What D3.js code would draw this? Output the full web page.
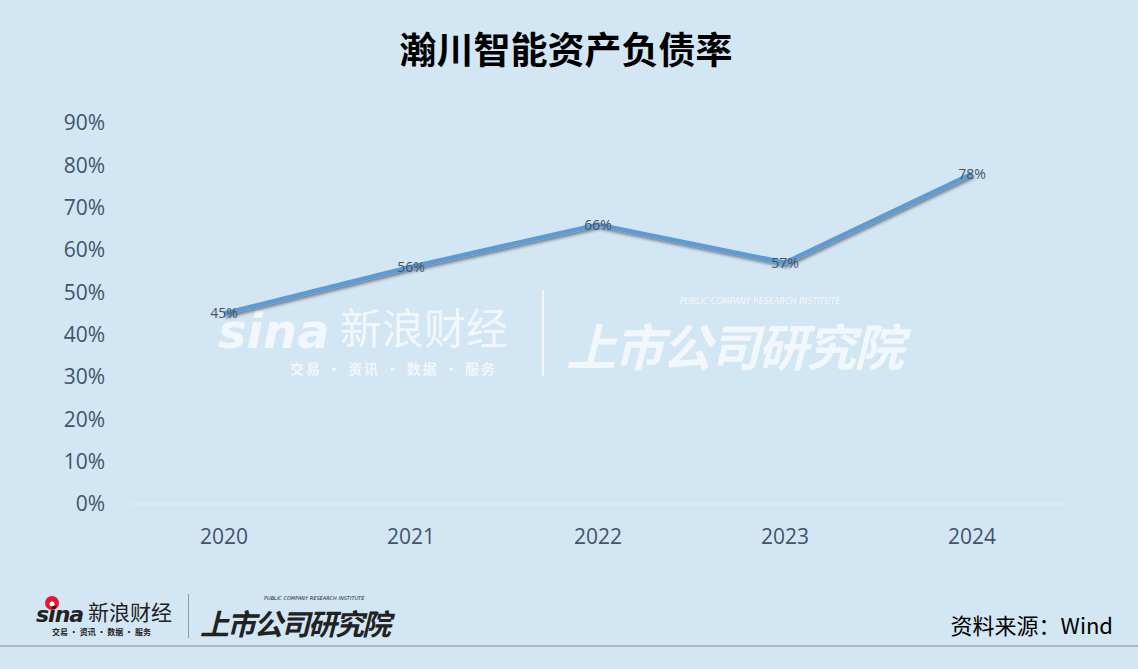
<!DOCTYPE html>
<html><head><meta charset="utf-8">
<script src="https://cdn.jsdelivr.net/npm/d3@7"></script>
<style>body{margin:0;background:#D2E6F4;}svg{display:block;}</style>
</head><body>
<script>
const categories = ["2020","2021","2022","2023","2024"];
const values = [0.45,0.56,0.66,0.57,0.78];
const yTicks = [0,0.1,0.2,0.3,0.4,0.5,0.6,0.7,0.8,0.9];
const title = "瀚川智能资产负债率";
const source = "资料来源：Wind";

const W=1138,H=669;
const svg=d3.select("body").append("svg").attr("width",W).attr("height",H);
svg.append("rect").attr("width",W).attr("height",H).attr("fill","#D2E6F4");

const defs=svg.append("defs");
const f=defs.append("filter").attr("id","sh").attr("x","-10%").attr("y","-50%").attr("width","120%").attr("height","200%");
f.append("feDropShadow").attr("dx",1.5).attr("dy",2.5).attr("stdDeviation",1.5).attr("flood-color","#000").attr("flood-opacity",0.45);

const x=d3.scalePoint().domain(categories).range([224,972]);
const y=d3.scaleLinear().domain([0,0.9]).range([504,123]);

// title
svg.append("text").attr("x",566).attr("y",64).attr("text-anchor","middle")
  .attr("font-family","'Noto Sans CJK SC'").attr("font-weight","bold").attr("font-size",37)
  .attr("fill","#000").text(title);

// watermark
const wm=svg.append("g").attr("fill","#fff").attr("opacity",0.7).attr("font-family","'Noto Sans CJK SC'");
wm.append("text").attr("x",218).attr("y",348).attr("font-size",48).attr("font-weight","bold").attr("font-style","italic").attr("font-family","'DejaVu Sans'").text("sina");
wm.append("text").attr("x",340).attr("y",344).attr("font-size",42).text("新浪财经");
wm.append("text").attr("x",290).attr("y",374).attr("font-size",14).attr("font-weight","bold").attr("letter-spacing",2).text("交易 · 资讯 · 数据 · 服务");
wm.append("rect").attr("x",542).attr("y",290).attr("width",2).attr("height",86);
wm.append("text").attr("x",566).attr("y",366).attr("font-size",50).attr("font-weight","bold").attr("font-style","italic").attr("letter-spacing",-2).text("上市公司研究院");
wm.append("text").attr("x",680).attr("y",304).attr("font-size",8).attr("font-family","'DejaVu Sans'").attr("font-style","italic").text("PUBLIC COMPANY RESEARCH INSTITUTE");

// y axis labels
svg.append("g").selectAll("text").data(yTicks).join("text")
  .attr("x",105).attr("y",d=>y(d)).attr("dy","0.35em").attr("text-anchor","end")
  .attr("font-family","'Open Sans'").attr("font-size",21).attr("fill","#44546A")
  .text(d3.format(".0%"));

// baseline
svg.append("line").attr("x1",130).attr("x2",1066).attr("y1",y(0)).attr("y2",y(0))
  .attr("stroke","#E4EEF6").attr("stroke-width",1);

// x labels
svg.append("g").selectAll("text").data(categories).join("text")
  .attr("x",d=>x(d)).attr("y",537).attr("dy","0.35em").attr("text-anchor","middle")
  .attr("font-family","'Open Sans'").attr("font-size",21).attr("fill","#44546A").text(d=>d);

// line
const data=categories.map((c,i)=>({c,v:values[i]}));
svg.append("path").datum(data).attr("d",d3.line().x(d=>x(d.c)).y(d=>y(d.v)))
  .attr("fill","none").attr("stroke","#5B9BD5").attr("stroke-width",4.5)
  .attr("stroke-linejoin","round").attr("filter","url(#sh)");

// labels
svg.append("g").selectAll("text").data(data).join("text")
  .attr("x",d=>x(d.c)).attr("y",d=>y(d.v)).attr("dy","0.35em").attr("text-anchor","middle")
  .attr("font-family","'Open Sans'").attr("font-size",14).attr("fill","#44546A")
  .text(d=>d3.format(".0%")(d.v));

// footer logo
const lg=svg.append("g").attr("font-family","'Noto Sans CJK SC'").attr("fill","#222");
lg.append("circle").attr("cx",52).attr("cy",603).attr("r",7).attr("fill","#E6162D");
lg.append("circle").attr("cx",52).attr("cy",604).attr("r",2.5).attr("fill","#fff");
lg.append("text").attr("x",36).attr("y",622).attr("font-size",22).attr("font-weight","bold").attr("font-style","italic").attr("font-family","'DejaVu Sans'").attr("letter-spacing",-1).text("sina");
lg.append("text").attr("x",88).attr("y",620).attr("font-size",21).text("新浪财经");
lg.append("text").attr("x",52).attr("y",635).attr("font-size",8).attr("font-weight","bold").text("交易 · 资讯 · 数据 · 服务");
lg.append("rect").attr("x",188).attr("y",594).attr("width",1).attr("height",44).attr("fill","#999");
lg.append("text").attr("x",200).attr("y",635).attr("font-size",29).attr("font-weight","bold").attr("font-style","italic").attr("letter-spacing",-2).text("上市公司研究院");
lg.append("text").attr("x",264).attr("y",600).attr("font-size",5).attr("font-family","'DejaVu Sans'").attr("font-style","italic").text("PUBLIC COMPANY RESEARCH INSTITUTE");

svg.append("text").attr("x",1113).attr("y",634).attr("text-anchor","end")
  .attr("font-family","'Noto Sans CJK SC'").attr("font-size",22).attr("fill","#000").text(source);

svg.append("line").attr("x1",0).attr("x2",W).attr("y1",646).attr("y2",646).attr("stroke","#A6A6A6").attr("stroke-width",1.5);
</script>
</body></html>
